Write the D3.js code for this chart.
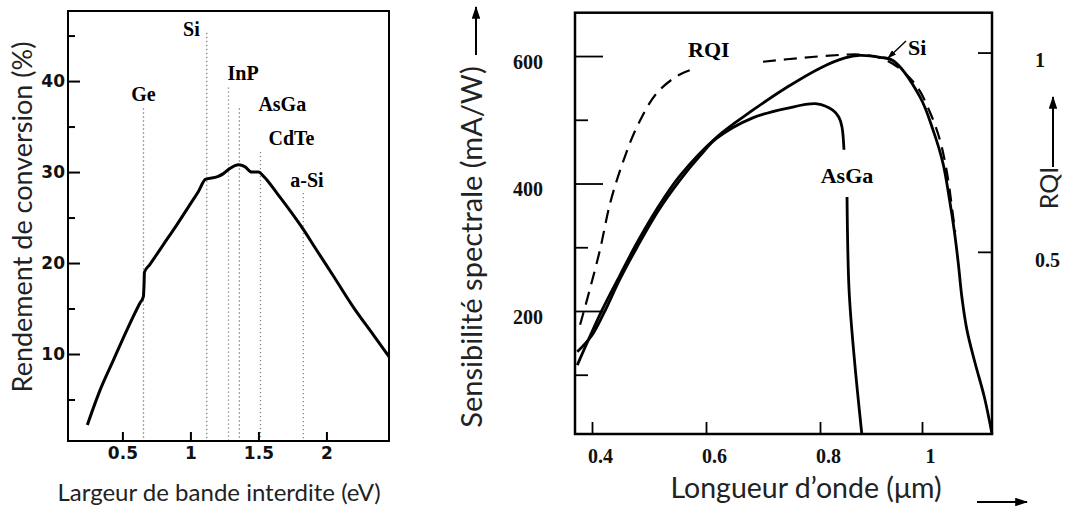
<!DOCTYPE html>
<html>
<head>
<meta charset="utf-8">
<script src="https://cdn.jsdelivr.net/npm/d3@7"></script>
<style>
  body { margin: 0; background: #fff; }
  svg { display: block; }
  .title { font-family: Lato, "Open Sans", sans-serif; fill: #222; }
  .num { font-family: "DejaVu Sans", sans-serif; font-weight: bold; font-size: 17px; }
  .serif { font-family: "Liberation Serif", "Times New Roman", serif; font-weight: bold; }
  .serifnum { font-family: "Liberation Serif", "Times New Roman", serif; font-weight: bold; font-size: 20px; }
</style>
</head>
<body>
<svg id="chart" width="1071" height="512"></svg>
<script>
// ---- left panel: conversion efficiency vs band gap ----
const gapTicks = [0.5, 1, 1.5, 2]
const gapTickLabels = ['0.5', '1', '1.5', '2']
const effTicks = [10, 20, 30, 40]
const effMinorTicks = [5, 15, 25, 35, 45]

// [band gap eV, efficiency %]
const efficiency = [
  [0.242, 2.2], [0.335, 6.0], [0.433, 9.3], [0.532, 12.6], [0.629, 15.6],
  [0.654, 16.3], [0.659, 17.6], [0.662, 19.0], [0.70, 19.8], [0.80, 22.0],
  [0.90, 24.2], [1.0, 26.5], [1.06, 27.9], [1.11, 29.2], [1.2, 29.5],
  [1.24, 29.8], [1.29, 30.4], [1.355, 30.8], [1.40, 30.6], [1.45, 30.0],
  [1.50, 30.0], [1.54, 29.5], [1.64, 27.6], [1.75, 25.4], [1.83, 23.7],
  [1.92, 21.6], [2.05, 18.6], [2.2, 15.1], [2.35, 12.0], [2.46, 9.7]
]

const materials = ['Ge', 'Si', 'InP', 'AsGa', 'CdTe', 'a-Si']
const materialGaps = [0.655, 1.12, 1.28, 1.36, 1.515, 1.83]
const materialLineTops = [37.0, 45.3, 39.3, 37.0, 32.2, 27.7]

// ---- right panel: spectral sensitivity vs wavelength ----
const waveTicks = [0.4, 0.6, 0.8, 1]
const waveTickLabels = ['0.4', '0.6', '0.8', '1']
const sensTicks = [200, 400, 600]
const sensMinorTicks = [100, 300, 500]
const rqiTicks = [0.5, 1]
const rqiTickLabels = ['0.5', '1']

// [wavelength um, mA/W]
const siSensitivity = [
  [0.374, 115], [0.418, 202], [0.449, 256], [0.479, 307], [0.516, 363],
  [0.554, 412], [0.619, 473], [0.682, 515], [0.742, 551], [0.800, 581],
  [0.849, 597], [0.878, 601], [0.918, 598], [0.943, 593], [0.996, 536],
  [1.022, 483], [1.041, 432], [1.053, 379], [1.063, 327], [1.071, 275],
  [1.078, 222], [1.088, 170], [1.104, 118], [1.122, 65], [1.137, 7]
]
// null value = break in the curve behind the "AsGa" label
const asgaSensitivity = [
  [0.374, 136], [0.400, 162], [0.421, 197], [0.449, 250], [0.479, 300],
  [0.516, 357], [0.554, 405], [0.589, 443], [0.619, 471], [0.682, 503],
  [0.742, 518], [0.795, 525], [0.825, 515], [0.837, 504], [0.843, 489],
  [0.847, 453], [0.850, null],
  [0.853, 379], [0.857, 233], [0.867, 128], [0.882, 7]
]
// [wavelength um, RQI]; null = gap in the dashed curve
const rqi = [
  [0.379, 0.317], [0.396, 0.405], [0.414, 0.505], [0.432, 0.623], [0.454, 0.724],
  [0.479, 0.814], [0.514, 0.899], [0.554, 0.945], [0.581, 0.960], [0.64, null],
  [0.700, 0.977], [0.770, 0.987], [0.853, 0.995], [0.878, 0.995], [0.917, 0.987],
  [0.951, 0.965], [0.990, 0.915], [1.016, 0.849], [1.035, 0.781], [1.049, 0.698],
  [1.061, 0.588], [1.065, 0.550]
]

const svg = d3.select('#chart')

const defs = svg.append('defs')
defs.append('marker')
  .attr('id', 'arrow')
  .attr('viewBox', '0 0 12 8')
  .attr('refX', 11).attr('refY', 4)
  .attr('markerWidth', 6.5).attr('markerHeight', 4.3)
  .attr('orient', 'auto')
  .append('path')
  .attr('d', 'M0,0L12,4L0,8z')
  .attr('fill', '#000')

// ================= left panel =================
const L = {left: 68, right: 389, top: 11, bottom: 441}
const xGap = d3.scaleLinear().domain([0.1, 2.46]).range([L.left, L.right])
const yEff = d3.scaleLinear().domain([0.44, 47.7]).range([L.bottom, L.top])

const left = svg.append('g')

// material reference lines
const labelPos = [
  {dx: 0, dy: -7, anchor: 'middle'},
  {dx: -7, dy: 3, anchor: 'end'},
  {dx: -1, dy: -7, anchor: 'start'},
  {dx: 19, dy: 3, anchor: 'start'},
  {dx: 8, dy: -7, anchor: 'start'},
  {dx: -13, dy: -6, anchor: 'start'}
]

left.selectAll('.mat')
  .data(materials)
  .join('line')
  .attr('class', 'mat')
  .attr('x1', (d, i) => xGap(materialGaps[i]))
  .attr('x2', (d, i) => xGap(materialGaps[i]))
  .attr('y1', (d, i) => yEff(materialLineTops[i]))
  .attr('y2', L.bottom)
  .attr('stroke', '#888')
  .attr('stroke-width', 1.3)
  .attr('stroke-dasharray', '1.3,2.7')

left.selectAll('.matLabel')
  .data(materials)
  .join('text')
  .attr('class', 'matLabel serif')
  .attr('x', (d, i) => xGap(materialGaps[i]) + labelPos[i].dx)
  .attr('y', (d, i) => yEff(materialLineTops[i]) + labelPos[i].dy)
  .attr('text-anchor', (d, i) => labelPos[i].anchor)
  .attr('font-size', 20)
  .text(d => d)

const effLine = d3.line()
  .x(d => xGap(d[0]))
  .y(d => yEff(d[1]))
  .curve(d3.curveMonotoneX)

left.append('path')
  .datum(efficiency)
  .attr('fill', 'none')
  .attr('stroke', '#000')
  .attr('stroke-width', 3)
  .attr('stroke-linejoin', 'round')
  .attr('d', effLine)

// axes (ticks inside the frame)
left.append('g')
  .attr('class', 'num')
  .attr('transform', `translate(${L.left},0)`)
  .call(d3.axisLeft(yEff).tickValues(effTicks).tickSize(-12).tickPadding(3))
  .call(g => g.select('.domain').remove())

left.append('g')
  .attr('transform', `translate(${L.left},0)`)
  .call(d3.axisLeft(yEff).tickValues(effMinorTicks).tickSize(-7).tickFormat(''))
  .call(g => g.select('.domain').remove())

left.append('g')
  .attr('class', 'num')
  .attr('transform', `translate(0,${L.bottom})`)
  .call(d3.axisBottom(xGap).tickValues(gapTicks).tickSize(-9).tickPadding(6)
    .tickFormat((d, i) => gapTickLabels[i]))
  .call(g => g.select('.domain').remove())

left.selectAll('.tick line').attr('stroke', '#000').attr('stroke-width', 2)
left.selectAll('.tick text').attr('fill', '#111')

left.append('rect')
  .attr('x', L.left).attr('y', L.top)
  .attr('width', L.right - L.left).attr('height', L.bottom - L.top)
  .attr('fill', 'none').attr('stroke', '#000').attr('stroke-width', 2)

left.append('text')
  .attr('class', 'title')
  .attr('transform', 'translate(32,217) rotate(-90)')
  .attr('text-anchor', 'middle')
  .attr('font-size', 27)
  .text('Rendement de conversion (%)')

left.append('text')
  .attr('class', 'title')
  .attr('x', 219).attr('y', 501)
  .attr('text-anchor', 'middle')
  .attr('font-size', 24)
  .text('Largeur de bande interdite (eV)')

// ================= right panel =================
const R = {left: 575, right: 992, top: 12.7, bottom: 434}
// the scanned axis is slightly uneven, so map each labelled tick
const xWave = d3.scaleLinear()
  .domain([0.37, 0.4, 0.6, 0.8, 1.0, 1.137])
  .range([R.left, 592, 706, 820, 922, R.right])
const ySens = d3.scaleLinear().domain([7, 668]).range([R.bottom, R.top])
const yRqi = d3.scaleLinear().domain([0.043, 1.1]).range([R.bottom, R.top])

const right = svg.append('g')

const sensLine = d3.line()
  .defined(d => d[1] != null)
  .x(d => xWave(d[0]))
  .y(d => ySens(d[1]))
  .curve(d3.curveCatmullRom.alpha(0.5))

const rqiLine = d3.line()
  .defined(d => d[1] != null)
  .x(d => xWave(d[0]))
  .y(d => yRqi(d[1]))
  .curve(d3.curveCatmullRom.alpha(0.5))

right.append('path')
  .datum(rqi)
  .attr('fill', 'none')
  .attr('stroke', '#000')
  .attr('stroke-width', 2.2)
  .attr('stroke-dasharray', '13,8')
  .attr('d', rqiLine)

right.selectAll('.sens')
  .data([siSensitivity, asgaSensitivity])
  .join('path')
  .attr('class', 'sens')
  .attr('fill', 'none')
  .attr('stroke', '#000')
  .attr('stroke-width', 2.8)
  .attr('stroke-linejoin', 'round')
  .attr('d', sensLine)

right.append('g')
  .attr('class', 'serifnum')
  .attr('transform', `translate(${R.left},0)`)
  .call(d3.axisLeft(ySens).tickValues(sensTicks).tickSize(-28).tickPadding(32))
  .call(g => g.select('.domain').remove())
  .call(g => g.selectAll('text').attr('dy', '0.62em'))

right.append('g')
  .attr('transform', `translate(${R.left},0)`)
  .call(d3.axisLeft(ySens).tickValues(sensMinorTicks).tickSize(-13).tickFormat(''))
  .call(g => g.select('.domain').remove())

right.append('g')
  .attr('class', 'serifnum')
  .attr('transform', `translate(${R.right},0)`)
  .call(d3.axisRight(yRqi).tickValues(rqiTicks).tickSize(-14).tickPadding(43)
    .tickFormat((d, i) => rqiTickLabels[i]))
  .call(g => g.select('.domain').remove())
  .call(g => g.selectAll('text').attr('dy', '0.72em'))

right.append('g')
  .attr('class', 'serifnum')
  .attr('transform', `translate(0,${R.bottom})`)
  .call(d3.axisBottom(xWave).tickValues(waveTicks).tickSize(-12).tickPadding(15)
    .tickFormat((d, i) => waveTickLabels[i]))
  .call(g => g.select('.domain').remove())
  .call(g => g.selectAll('text').attr('dx', 8))

right.selectAll('.tick line').attr('stroke', '#000').attr('stroke-width', 1.8)
right.selectAll('.tick text').attr('fill', '#111')

right.append('rect')
  .attr('x', R.left).attr('y', R.top)
  .attr('width', R.right - R.left).attr('height', R.bottom - R.top)
  .attr('fill', 'none').attr('stroke', '#000').attr('stroke-width', 2.5)

// curve labels
right.append('text').attr('class', 'serif').attr('font-size', 22)
  .attr('x', 688).attr('y', 57).text('RQI')
right.append('text').attr('class', 'serif').attr('font-size', 22)
  .attr('x', 908).attr('y', 55).text('Si')
right.append('text').attr('class', 'serif').attr('font-size', 22)
  .attr('x', 847).attr('y', 183).attr('text-anchor', 'middle').text('AsGa')

right.append('line')
  .attr('x1', 906).attr('y1', 41).attr('x2', 888).attr('y2', 58)
  .attr('stroke', '#000').attr('stroke-width', 1.4)
  .attr('marker-end', 'url(#arrow)')

// titles and direction arrows
right.append('text')
  .attr('class', 'title')
  .attr('transform', 'translate(482,247) rotate(-90)')
  .attr('text-anchor', 'middle')
  .attr('font-size', 29)
  .text('Sensibilité spectrale (mA/W)')

right.append('text')
  .attr('class', 'title')
  .attr('x', 806).attr('y', 498)
  .attr('text-anchor', 'middle')
  .attr('font-size', 28.5)
  .text('Longueur d’onde (μm)')

right.append('text')
  .attr('class', 'title')
  .attr('transform', 'translate(1058,188) rotate(-90)')
  .attr('text-anchor', 'middle')
  .attr('font-size', 25)
  .text('RQI')

const arrows = [
  [476, 55, 476, 7],
  [977, 502, 1027, 502],
  [1053, 167, 1053, 97]
]
right.selectAll('.dir')
  .data(arrows)
  .join('line')
  .attr('class', 'dir')
  .attr('x1', d => d[0]).attr('y1', d => d[1])
  .attr('x2', d => d[2]).attr('y2', d => d[3])
  .attr('stroke', '#000').attr('stroke-width', 2)
  .attr('marker-end', 'url(#arrow)')
</script>
</body>
</html>
